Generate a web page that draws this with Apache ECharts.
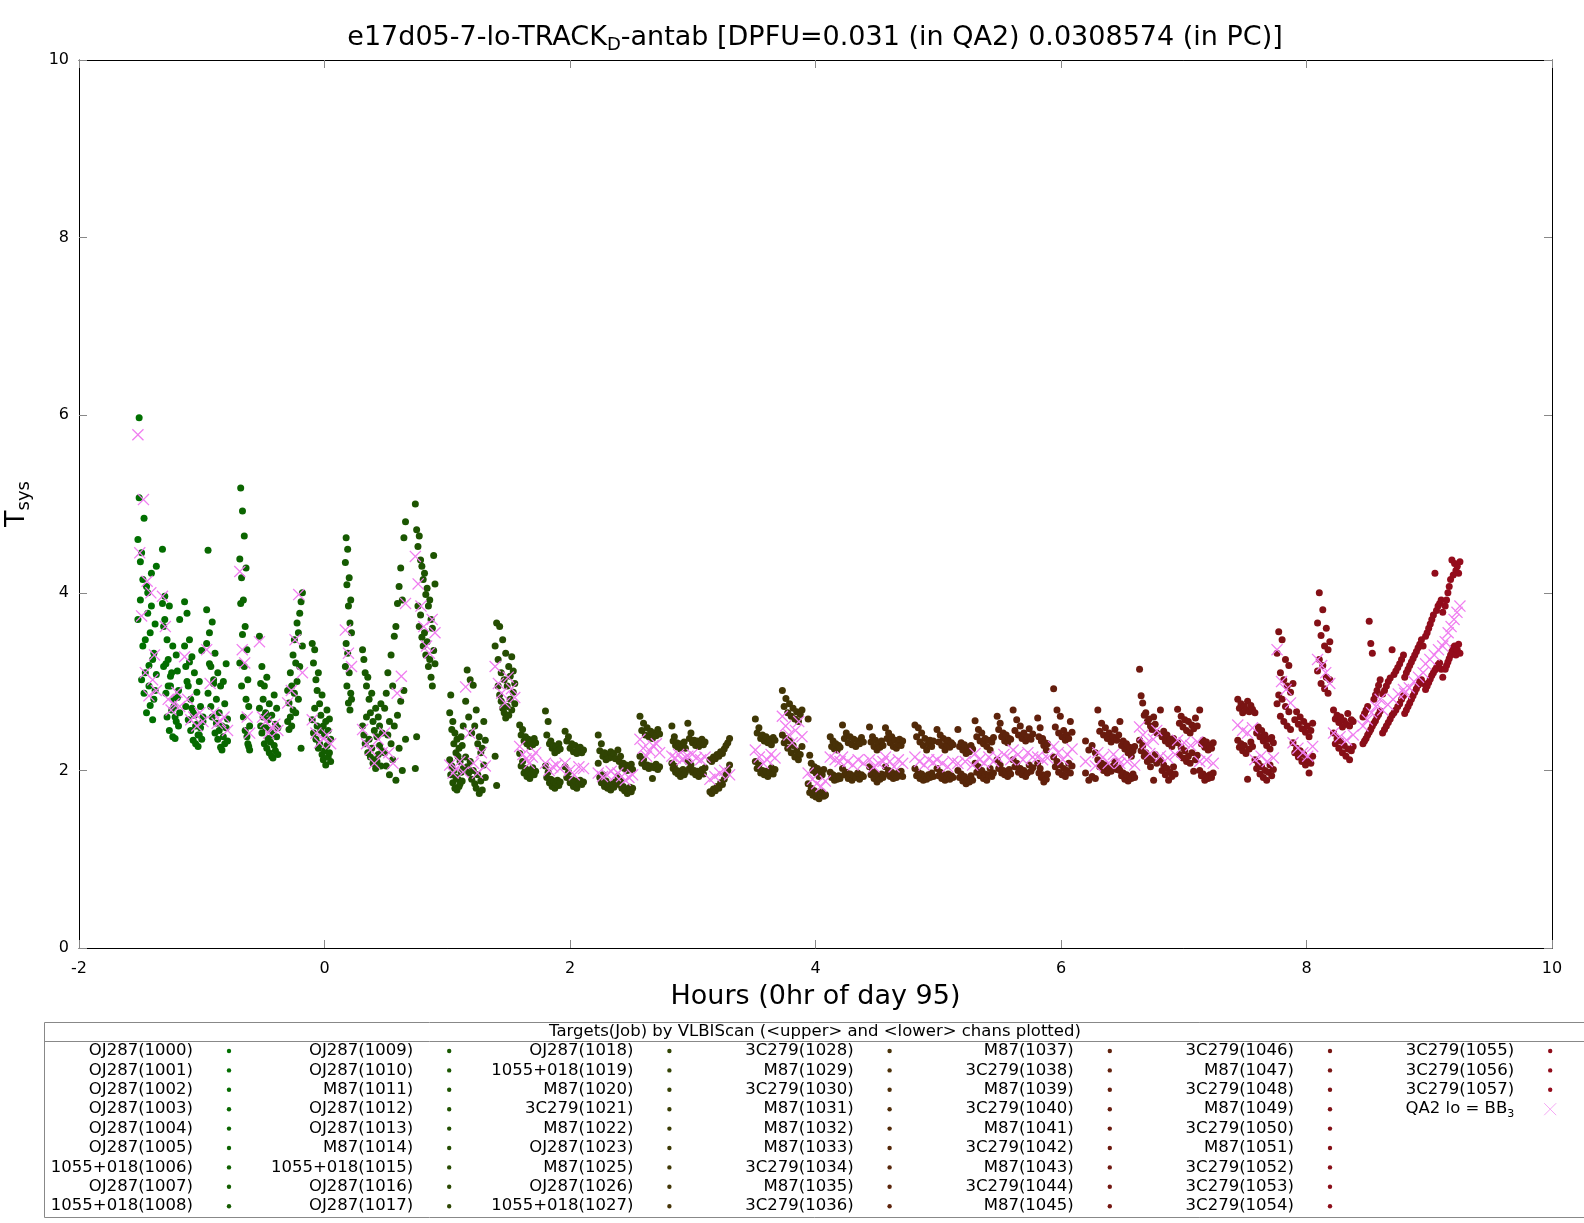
<!DOCTYPE html>
<html>
<head>
<meta charset="utf-8">
<title>e17d05-7-lo-TRACK_D-antab</title>
<script src="https://cdn.jsdelivr.net/npm/echarts@6/dist/echarts.min.js"></script>
<style>
html, body { margin: 0; padding: 0; background: #fff; }
#chart { width: 1584px; height: 1223px; }
</style>
</head>
<body>
<div id="chart"></div>
<script>
'use strict'
//job numbers and targets (1024 is not in the list)
const scanIds = [1000,1001,1002,1003,1004,1005,1006,1007,1008,
    1009,1010,1011,1012,1013,1014,1015,1016,1017,
    1018,1019,1020,1021,1022,1023,1025,1026,1027,
    1028,1029,1030,1031,1032,1033,1034,1035,1036,
    1037,1038,1039,1040,1041,1042,1043,1044,1045,
    1046,1047,1048,1049,1050,1051,1052,1053,1054,
    1055,1056,1057];
const scanSources = ['OJ287','OJ287','OJ287','OJ287','OJ287','OJ287','1055+018','OJ287','1055+018',
    'OJ287','OJ287','M87','OJ287','OJ287','M87','1055+018','OJ287','OJ287',
    'OJ287','1055+018','M87','3C279','M87','OJ287','M87','OJ287','1055+018',
    '3C279','M87','3C279','M87','M87','M87','3C279','M87','3C279',
    'M87','3C279','M87','3C279','M87','3C279','M87','3C279','M87',
    '3C279','M87','3C279','M87','3C279','M87','3C279','3C279','3C279',
    '3C279','3C279','3C279'];
//scan start / end (hours from 0hr of day 95)
const scanStart = [-1.52,-1.32,-1.14,-0.96,-0.69,-0.53,-0.30,-0.10,0.17,
    0.31,0.49,0.74,1.02,1.15,1.39,1.59,1.80,1.96,
    2.23,2.39,2.57,2.83,2.96,3.14,3.51,3.73,3.94,
    4.12,4.22,4.44,4.57,4.81,4.99,5.16,5.30,5.48,
    5.61,5.81,5.94,6.20,6.30,6.48,6.64,6.81,6.95,
    7.13,7.44,7.58,7.76,7.89,8.09,8.22,8.46,8.62,
    8.80,8.97,9.13];
const scanEnd = [-1.37,-1.18,-0.99,-0.79,-0.61,-0.38,-0.18,0.05,0.22,
    0.47,0.66,0.90,1.13,1.31,1.55,1.72,1.92,2.11,
    2.37,2.51,2.73,2.94,3.10,3.30,3.67,3.89,4.08,
    4.20,4.39,4.55,4.71,4.96,5.12,5.28,5.45,5.59,
    5.77,5.89,6.09,6.28,6.47,6.60,6.78,6.93,7.11,
    7.24,7.56,7.73,7.87,8.05,8.19,8.38,8.60,8.79,
    8.95,9.11,9.25];
//Tsys, <upper> chan
const tsysUpper = [
    [4.60,5.97,3.92,4.45,3.40,4.84,3.10,4.07,3.77,2.95,3.55,4.22,3.25,2.80,3.65,4.30],
    [4.49,3.62,3.96,3.20,3.47,2.95,3.85,3.06,2.68,3.40,2.80,2.60,3.30,3.12,2.90,3.70],
    [3.90,3.17,3.77,2.95,3.47,2.80,3.28,2.65,3.10,2.50,2.88,2.40,3.00,2.72,3.35,2.60],
    [3.81,4.48,3.55,3.17,3.67,2.98,3.32,2.80,3.10,2.65,2.95,2.50,3.00,2.75,3.20,2.58],
    [4.38,5.18,4.17,4.92,3.92,4.64,3.62,4.28,3.36,3.02,2.72,2.50],
    [3.51,2.98,3.17,2.80,2.95,2.65,3.05,2.57,2.75,2.45,2.62,2.40,2.85,2.52,2.70,2.48],
    [2.90,2.76,3.10,2.95,3.30,3.47,3.21,3.66,3.55,3.77,3.90,4.00],
    [3.43,3.21,3.36,3.02,2.90,3.10,2.75,2.62,2.85,2.50,2.40,2.55,2.68,2.45,2.58,2.35],
    [4.34,4.62,4.09,4.49,3.85,4.17,3.66,3.92,3.55],
    [3.36,3.25,3.10,2.95,3.05,2.80,2.65,2.87,2.55,2.45,2.70,2.38,2.60,2.50,2.75,2.42],
    [2.70,2.87,3.10,2.55,3.30,2.95,3.51,3.62,3.88,4.07,4.28,3.92,4.62,4.80],
    [5.00,4.71,4.52,4.64,4.37,4.30,4.15,4.22,3.98,4.05,3.85,3.92,3.70,3.60,4.42,4.10],
    [2.65,2.85,2.46,2.55,2.30,2.42,2.20,2.35,2.16,2.25,2.10,2.38,2.28,2.50],
    [2.78,3.13,2.60,3.02,2.42,2.96,2.50,2.68,2.30,2.38,2.20,2.25,2.55,2.34],
    [3.40,3.66,3.25,3.62,3.10,3.47,3.02,3.32,2.95,3.17,3.06,3.28,3.12,2.98],
    [2.51,2.40,2.46,2.33,2.38,2.30,2.35,2.27,2.32,2.29,2.36,2.31],
    [2.67,2.40,2.55,2.30,2.33,2.25,2.28,2.20,2.27,2.22,2.30,2.24],
    [2.44,2.33,2.38,2.25,2.30,2.21,2.28,2.19,2.24,2.26,2.20,2.23],
    [2.40,2.22,2.30,2.16,2.20,2.12,2.18,2.14,2.21,2.15,2.19,2.13],
    [2.23,2.10,2.16,2.04,2.08,2.02,2.06,2.00,2.05,2.03,2.07,2.01],
    [2.61,2.45,2.53,2.40,2.48,2.38,2.44,2.36,2.42,2.39,2.46,2.41],
    [2.50,2.33,2.38,2.28,2.31,2.26,2.30,2.24,2.29,2.27,2.32,2.25],
    [2.53,2.36,2.42,2.31,2.34,2.28,2.33,2.27,2.30,2.35,2.29,2.32],
    [2.12,2.10,2.15,2.13,2.18,2.16,2.21,2.19,2.24,2.28,2.31,2.36],
    [2.58,2.42,2.48,2.36,2.40,2.33,2.38,2.31,2.35,2.29,2.37,2.34],
    [2.90,2.72,2.81,2.65,2.75,2.61,2.70,2.58,2.66,2.55,2.63,2.68],
    [2.58,2.17,2.08,2.00,2.04,1.97,2.02,1.93,1.99,1.95,2.01,1.72],
    [2.38,2.27,2.33,2.24,2.30,2.23,2.28,2.26],
    [2.51,2.36,2.42,2.31,2.38,2.29,2.35,2.27,2.33,2.30,2.37,2.32],
    [2.49,2.32,2.38,2.27,2.34,2.23,2.30,2.26,2.33,2.28],
    [2.48,2.36,2.42,2.31,2.38,2.27,2.34,2.25,2.30,2.35,2.28,2.33],
    [2.51,2.38,2.48,2.32,2.42,2.28,2.36,2.23,2.30,2.34,2.27,2.33],
    [2.46,2.32,2.40,2.28,2.36,2.23,2.30,2.34,2.26,2.31,2.29],
    [2.46,2.27,2.31,2.23,2.29,2.19,2.25,2.21,2.28,2.24],
    [2.56,2.38,2.46,2.33,2.42,2.30,2.36,2.27,2.34,2.23,2.32,2.37],
    [2.61,2.46,2.53,2.38,2.42,2.33,2.40,2.31,2.36,2.35],
    [2.68,2.45,2.57,2.40,2.50,2.36,2.42,2.33,2.38,2.47,2.35,2.41],
    [2.59,2.38,2.48,2.33,2.36,2.28,2.31,2.23,2.30],
    [2.92,2.49,2.68,2.42,2.61,2.38,2.45,2.34,2.40,2.36,2.55,2.43],
    [2.33,2.23,2.28,2.20],
    [2.68,2.44,2.53,2.40,2.48,2.36,2.42,2.32,2.38,2.46,2.34,2.40],
    [2.55,2.28,2.33,2.24,2.30,2.20,2.26,2.16,2.22,2.27],
    [3.14,2.84,2.76,2.62,2.65,2.55,2.58,2.50,2.46,2.60,2.52,2.42],
    [2.68,2.38,2.44,2.33,2.40,2.30,2.35,2.27,2.36,2.32],
    [2.69,2.53,2.61,2.49,2.57,2.45,2.55,2.42,2.51,2.47,2.59,2.50],
    [2.68,2.30,2.34,2.26,2.32,2.23,2.28,2.25,2.31],
    [2.80,2.70,2.75,2.65,2.72,2.68,2.78,2.66,2.73,2.69],
    [2.65,2.42,2.49,2.38,2.45,2.33,2.40,2.28,2.35,2.24,2.37,2.31],
    [3.32,3.56,3.10,3.47,3.02,3.25,2.95,3.18,2.88],
    [2.98,2.57,2.66,2.52,2.60,2.47,2.55,2.43,2.50,2.38,2.45,2.53],
    [3.66,4.00,3.52,3.81,3.40,3.60,3.36,3.45],
    [2.68,2.58,2.62,2.54,2.60,2.49,2.56,2.52,2.64,2.50,2.57,2.55],
    [2.60,2.64,2.68,2.72,3.68,3.43,3.32,2.80,2.85,2.90,2.96,3.02],
    [2.86,2.90,2.95,3.00,3.04,3.36,3.08,3.12,3.16,3.20,3.25,3.30],
    [3.05,3.10,3.14,3.18,3.22,3.26,3.30,3.34,3.38,3.42,3.47,3.40],
    [3.51,3.55,3.60,3.65,3.70,3.75,4.22,3.80,3.85,3.88,3.92,3.78],
    [3.85,3.92,4.00,4.07,4.15,4.37,4.20,4.33,4.25,4.30,4.22,4.35]
];
//Tsys, <lower> chan
const tsysLower = [
    [3.70,5.07,4.35,3.02,4.15,2.87,3.47,2.65,4.00,3.18,2.73,3.85,2.57,3.32,2.90,3.08],
    [3.88,3.17,3.70,2.87,2.60,3.25,2.45,2.95,3.10,2.38,2.72,2.36,2.55,2.82,2.50,2.65],
    [3.40,2.72,3.00,2.57,3.22,2.45,2.70,2.34,2.62,2.30,2.52,2.27,2.40,2.48,2.35,2.55],
    [3.43,2.87,3.20,2.72,2.60,3.02,2.42,2.53,2.35,2.45,2.26,2.23,2.38,2.30,2.48,2.33],
    [3.21,3.88,2.95,3.53,2.60,3.17,2.45,2.80,2.38,2.30,2.27,2.23],
    [2.70,2.50,2.42,2.60,2.30,2.48,2.25,2.36,2.20,2.32,2.16,2.14,2.28,2.22,2.38,2.18],
    [2.55,2.46,2.60,2.50,2.68,2.87,2.65,3.00,2.80,3.17,2.25,3.40],
    [2.57,2.42,2.70,2.35,2.50,2.25,2.30,2.45,2.18,2.12,2.22,2.06,2.28,2.15,2.20,2.10],
    [3.17,3.43,2.95,3.32,2.76,3.10,2.68,2.87,2.80],
    [2.50,2.40,2.30,2.60,2.20,2.35,2.15,2.25,2.08,2.12,2.02,2.10,2.18,2.28,2.05,2.22],
    [2.20,2.05,2.40,1.95,2.30,2.12,2.50,1.89,2.62,2.25,2.78,2.00,2.90,2.35],
    [2.02,2.38,3.85,3.62,3.75,3.50,3.40,3.55,3.30,3.45,3.17,3.25,3.05,2.95,3.35,3.20],
    [2.12,1.95,2.05,1.86,2.00,1.80,1.92,1.78,1.90,1.82,1.85,1.98,1.88,2.02],
    [2.15,2.04,1.97,2.10,1.90,2.00,1.85,1.80,1.95,1.74,1.88,1.78,2.06,1.92],
    [2.16,1.83,2.95,2.85,2.78,2.70,2.65,2.59,2.72,2.62,2.80,2.68,2.88,2.75],
    [2.19,2.05,2.10,1.97,2.02,1.93,2.00,1.91,1.96,2.03,1.95,1.99],
    [2.05,1.92,1.98,1.86,1.90,1.82,1.88,1.80,1.85,1.89,1.83,1.87],
    [2.04,1.92,1.98,1.86,1.90,1.82,1.88,1.80,1.85,1.89,1.84,1.87],
    [2.08,1.92,1.86,1.95,1.82,1.88,1.80,1.84,1.78,1.85,1.81,1.87],
    [1.93,1.84,1.88,1.80,1.82,1.77,1.79,1.74,1.78,1.81,1.76,1.80],
    [2.16,2.08,2.12,2.04,2.06,2.02,2.05,1.91,2.03,2.07,2.01,2.04],
    [2.08,2.02,2.05,1.98,2.00,1.96,1.99,1.93,1.97,2.01,1.95,1.98],
    [2.10,2.02,2.06,1.98,2.00,1.95,1.99,1.93,1.97,2.01,1.96,2.03],
    [1.76,1.74,1.79,1.77,1.82,1.80,1.86,1.84,1.90,1.95,2.00,2.06],
    [2.10,2.02,2.06,1.97,2.00,1.95,1.99,1.93,1.98,2.03,1.96,2.01],
    [2.40,2.31,2.36,2.25,2.33,2.20,2.28,2.15,2.22,2.12,2.18,2.27],
    [1.85,1.75,1.80,1.72,1.77,1.70,1.74,1.68,1.72,1.76,1.71,1.73],
    [1.98,1.92,1.95,1.89,1.93,1.90,1.94,1.91],
    [2.02,1.95,1.98,1.91,1.96,1.89,1.94,1.92,1.97,1.90,1.95,1.93],
    [2.04,1.95,2.00,1.91,1.97,1.87,1.93,1.90,1.96,1.92],
    [2.04,1.96,2.00,1.93,1.98,1.91,1.95,1.92,1.97,1.94,1.99,1.93],
    [2.02,1.94,1.98,1.91,1.96,1.89,1.93,1.90,1.95,1.92,1.97,1.93],
    [2.02,1.94,1.98,1.91,1.95,1.89,1.93,1.96,1.90,1.94,1.92],
    [2.00,1.92,1.96,1.88,1.93,1.85,1.90,1.87,1.94,1.89],
    [2.08,1.98,2.04,1.94,2.00,1.91,1.96,1.89,1.95,2.02,1.93,1.97],
    [2.12,2.02,2.06,1.97,2.00,1.95,1.98,1.93,2.01,1.96],
    [2.12,2.04,2.08,1.98,2.02,1.95,2.00,1.93,1.97,2.06,1.99,2.03],
    [2.08,1.97,2.02,1.92,1.95,1.87,1.93,1.90,1.96],
    [2.15,2.04,2.10,1.98,2.06,1.95,2.02,1.93,2.00,2.08,1.97,2.05],
    [1.97,1.89,1.93,1.91],
    [2.12,2.04,2.08,2.00,2.06,1.97,2.02,1.99,2.05,2.10,2.01,2.03],
    [2.00,1.94,1.97,1.90,1.95,1.88,1.93,1.91,1.96,1.92],
    [2.34,2.22,2.28,2.16,2.20,2.10,2.14,2.04,2.12,1.89,2.18,2.08],
    [2.12,2.00,2.06,1.95,2.02,1.89,1.98,1.93,2.04,1.96],
    [2.31,2.18,2.26,2.14,2.22,2.10,2.16,2.08,2.20,1.99,2.12,2.17],
    [2.00,1.94,1.96,1.89,1.93,1.91,1.95,1.92,1.97],
    [2.34,2.26,2.30,2.22,2.28,2.19,1.90,2.24,2.32,2.27],
    [2.12,2.02,2.08,1.96,2.04,1.92,2.00,1.89,1.98,2.06,1.94,2.01],
    [2.75,2.85,2.61,2.80,2.55,2.72,2.50,2.66,2.46],
    [2.31,2.20,2.25,2.15,2.22,2.10,2.18,2.06,2.12,1.97,2.08,2.16],
    [3.12,3.25,2.98,3.18,2.92,3.05,2.87,3.02],
    [2.42,2.30,2.36,2.25,2.33,2.20,2.28,2.16,2.24,2.12,2.22,2.27],
    [2.30,2.33,2.36,2.40,2.43,2.46,2.50,2.53,2.56,2.60,2.63,2.67],
    [2.42,2.46,2.50,2.54,2.58,2.62,2.65,2.68,2.72,2.75,2.80,2.84],
    [2.64,2.68,2.72,2.76,2.80,2.84,2.88,2.92,2.96,3.00,3.02,2.98],
    [2.91,2.95,2.99,3.03,3.07,3.10,3.13,3.16,3.19,3.21,3.14,3.05],
    [3.14,3.18,3.22,3.26,3.30,3.34,3.38,3.40,3.30,3.36,3.42,3.32]
];
//QA2 lo = BB3
const qa2Tsys = [
    [5.78,4.45,3.74,5.05,3.10,4.13,2.84,4.00,3.02,3.30,2.90],
    [3.96,3.62,2.80,2.68,2.75,2.88,2.72],
    [3.28,2.80,2.57,2.60,2.50,2.65,2.55],
    [3.36,2.98,2.65,2.53,2.55,2.60,2.45],
    [4.24,3.36,3.21,2.60,2.42],
    [3.45,2.60,2.55,2.42,2.48,2.52,2.45],
    [2.76,2.90,3.47,3.98,3.10],
    [2.57,2.42,2.31,2.36,2.40,2.30],
    [3.58,3.32,3.17],
    [2.46,2.30,2.23,2.08,2.35,2.20],
    [2.42,2.20,2.08,2.87,3.06,3.88],
    [4.41,4.10,3.85,3.62,3.40,3.32,3.70,3.55],
    [2.06,1.97,2.02,2.10,1.98],
    [2.94,2.42,2.08,1.97,2.20,2.05],
    [3.17,2.98,2.87,2.76,3.05,2.92,2.82],
    [2.27,2.18,2.13,2.08,2.15,2.20],
    [2.08,2.00,2.04,2.06,2.02],
    [2.08,2.00,1.95,2.04,2.02],
    [1.97,1.93,1.95,1.99,1.94],
    [1.97,1.93,1.89,1.92,1.95],
    [2.35,2.25,2.16,2.22,2.28,2.30,2.20],
    [2.16,2.14,2.18,2.12,2.15],
    [2.16,2.18,2.14,2.12,2.15],
    [1.90,1.93,1.97,2.00,1.95],
    [2.23,2.15,2.08,2.12,2.18,2.14],
    [2.61,2.50,2.40,2.31,2.45,2.55,2.38],
    [1.97,1.90,1.85,1.82,1.88],
    [2.15,2.12,2.10],
    [2.15,2.10,2.06,2.12,2.08],
    [2.12,2.04,2.08,2.10],
    [2.15,2.10,2.04,2.12,2.08],
    [2.15,2.10,2.06,2.12,2.09],
    [2.12,2.08,2.04,2.10],
    [2.08,2.10,2.06],
    [2.19,2.12,2.08,2.15,2.10],
    [2.15,2.18,2.12],
    [2.23,2.18,2.12,2.20,2.15],
    [2.15,2.12,2.14],
    [2.27,2.20,2.12,2.18,2.24],
    [2.10,2.05],
    [2.20,2.15,2.08,2.18,2.12],
    [2.08,2.10,2.06],
    [2.49,2.40,2.30,2.19,2.35,2.45],
    [2.16,2.14,2.18],
    [2.34,2.31,2.28,2.32],
    [2.10,2.12,2.08],
    [2.51,2.45,2.42,2.48],
    [2.12,2.16,2.10,2.14],
    [3.36,3.00,2.91,2.76],
    [2.31,2.25,2.20,2.16,2.27],
    [3.25,3.18,3.10,2.98],
    [2.42,2.38,2.34,2.40],
    [2.50,2.57,2.65,2.72,2.80],
    [2.68,2.74,2.80,2.86,2.91],
    [2.87,2.93,3.00,3.05,3.10],
    [3.20,3.25,3.30,3.36,3.40],
    [3.45,3.55,3.62,3.70,3.78,3.85]
];

const fontFam = '"DejaVu Sans", "Liberation Sans", sans-serif';
const crossPath = 'path://M0,1.5L1.5,0L10,8.5L18.5,0L20,1.5L11.5,10L20,18.5L18.5,20L10,11.5L1.5,20L0,18.5L8.5,10Z';

//colour runs from green (first job) to dark red (last job)
function scanColor(i) {
    let f = i / (scanIds.length - 1);
    let r = Math.round(148 * f);
    let g = Math.round(12 + 100 * Math.pow(1 - f, 1.5));
    let b = Math.round(28 * f * f);
    return `rgb(${r},${g},${b})`;
}

let series = [];
let qaData = [];
for (let i = 0; i < scanIds.length; i++) {
    let n = tsysUpper[i].length;
    let step = (scanEnd[i] - scanStart[i]) / (n - 1);
    let data = [];
    for (let k = 0; k < n; k++) {
        let t = scanStart[i] + k * step;
        data.push([t, tsysUpper[i][k]]);
        data.push([t, tsysLower[i][k]]);
    }
    series.push({
        name: scanSources[i] + '(' + scanIds[i] + ')',
        type: 'scatter',
        data: data,
        symbol: 'circle',
        symbolSize: 7,
        itemStyle: { color: scanColor(i), opacity: 1 },
        z: 2
    });
    let m = qa2Tsys[i].length;
    let qStep = m > 1 ? (scanEnd[i] - scanStart[i]) / (m - 1) : 0;
    for (let k = 0; k < m; k++) {
        qaData.push([scanStart[i] + k * qStep, qa2Tsys[i][k]]);
    }
}
series.push({
    name: 'QA2 lo = BB3',
    type: 'scatter',
    data: qaData,
    symbol: crossPath,
    symbolSize: 12,
    itemStyle: { color: '#f07ef0', opacity: 1 },
    z: 3
});

//legend box below the plot, drawn by hand (9 rows per column)
let graphics = [];
graphics.push({
    type: 'text', x: 815, y: 38,
    style: {
        text: 'e17d05-7-lo-TRACK{sub|D}-antab [DPFU=0.031 (in QA2) 0.0308574 (in PC)]',
        fontSize: 27, fontFamily: fontFam, fill: '#000',
        align: 'center', verticalAlign: 'middle', textAlign: 'center', textVerticalAlign: 'middle',
        rich: { sub: { fontSize: 18, fontFamily: fontFam, padding: [14, 0, 0, 0] } }
    }
});
graphics.push({
    type: 'rect',
    shape: { x: 44.5, y: 1022.5, width: 1545, height: 195 },
    style: { fill: 'none', stroke: '#888', lineWidth: 1 }
});
graphics.push({
    type: 'line',
    shape: { x1: 44.5, y1: 1041.5, x2: 1584, y2: 1041.5 },
    style: { stroke: '#888', lineWidth: 1 }
});
graphics.push({
    type: 'text', x: 815, y: 1032,
    style: {
        text: 'Targets(Job) by VLBIScan (<upper> and <lower> chans plotted)',
        fontSize: 16.5, fontFamily: fontFam, fill: '#000',
        align: 'center', verticalAlign: 'middle', textAlign: 'center', textVerticalAlign: 'middle'
    }
});
for (let i = 0; i <= scanIds.length; i++) {
    let col = Math.floor(i / 9);
    let row = i % 9;
    let tx = 193 + col * 220.2;
    let mx = 229 + col * 220.2;
    let ty = 1051 + row * 19.4;
    if (i < scanIds.length) {
        graphics.push({
            type: 'text', x: tx, y: ty,
            style: {
                text: scanSources[i] + '(' + scanIds[i] + ')',
                fontSize: 16.5, fontFamily: fontFam, fill: '#000',
                align: 'right', verticalAlign: 'middle', textAlign: 'right', textVerticalAlign: 'middle'
            }
        });
        graphics.push({
            type: 'circle',
            shape: { cx: mx, cy: ty, r: 2.2 },
            style: { fill: scanColor(i) }
        });
    } else {
        graphics.push({
            type: 'text', x: tx, y: ty,
            style: {
                text: 'QA2 lo = BB{sub|3}',
                fontSize: 16.5, fontFamily: fontFam, fill: '#000',
                align: 'right', verticalAlign: 'middle', textAlign: 'right', textVerticalAlign: 'middle',
                rich: { sub: { fontSize: 11, fontFamily: fontFam, padding: [9, 0, 0, 0] } }
            }
        });
        graphics.push({
            type: 'line',
            shape: { x1: mx - 6, y1: ty - 6, x2: mx + 6, y2: ty + 6 },
            style: { stroke: '#f5a8f5', lineWidth: 1 }
        });
        graphics.push({
            type: 'line',
            shape: { x1: mx - 6, y1: ty + 6, x2: mx + 6, y2: ty - 6 },
            style: { stroke: '#f5a8f5', lineWidth: 1 }
        });
    }
}

let tickStyle = { inside: true, length: 8, lineStyle: { color: '#888' } };
let lineBlack = { show: true, onZero: false, lineStyle: { color: '#000', width: 1 } };

let chart = echarts.init(document.getElementById('chart'));
let option = {
    backgroundColor: '#fff',
    animation: false,
    grid: { left: 79, right: 32, top: 60, bottom: 275, containLabel: false, outerBoundsMode: 'none' },
    xAxis: [
        {
            type: 'value', min: -2, max: 10, interval: 2, position: 'bottom',
            axisLine: lineBlack, axisTick: tickStyle, splitLine: { show: false },
            axisLabel: { fontSize: 16, fontFamily: fontFam, color: '#000', margin: 13 },
            name: 'Hours (0hr of day 95)', nameLocation: 'middle', nameGap: 35,
            nameTextStyle: { fontSize: 27, fontFamily: fontFam, color: '#000' }
        },
        {
            type: 'value', min: -2, max: 10, interval: 2, position: 'top',
            axisLine: lineBlack, axisTick: tickStyle, splitLine: { show: false },
            axisLabel: { show: false }
        }
    ],
    yAxis: [
        {
            type: 'value', min: 0, max: 10, interval: 2, position: 'left',
            axisLine: lineBlack, axisTick: tickStyle, splitLine: { show: false },
            axisLabel: { fontSize: 16, fontFamily: fontFam, color: '#000', margin: 10 },
            name: '{t|T}{s|sys}', nameLocation: 'middle', nameGap: 46, nameRotate: 90,
            nameTextStyle: {
                color: '#000',
                rich: {
                    t: { fontSize: 27, fontFamily: fontFam, color: '#000' },
                    s: { fontSize: 18, fontFamily: fontFam, color: '#000', padding: [14, 0, 0, 0] }
                }
            }
        },
        {
            type: 'value', min: 0, max: 10, interval: 2, position: 'right',
            axisLine: lineBlack, axisTick: tickStyle, splitLine: { show: false },
            axisLabel: { show: false }
        }
    ],
    graphic: graphics,
    series: series
};
chart.setOption(option);
</script>
</body>
</html>
